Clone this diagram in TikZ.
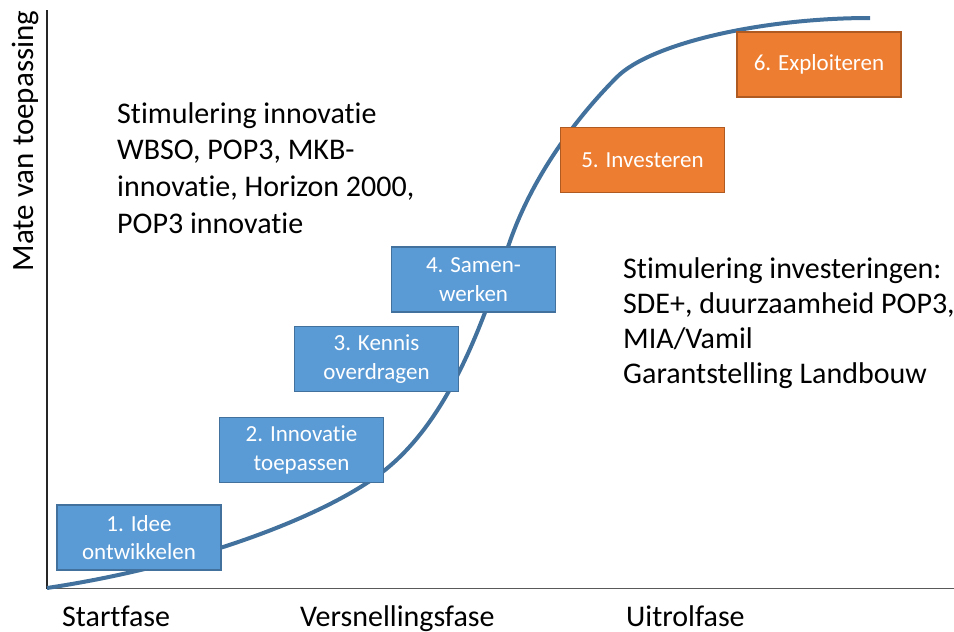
\documentclass[tikz,border=0pt]{standalone}
\usepackage{fontspec}
\setmainfont{Carlito}[Ligatures={NoCommon}]
\definecolor{boxblue}{HTML}{5B9BD5}
\definecolor{boxblueline}{HTML}{41719C}
\definecolor{boxorange}{HTML}{ED7D31}
\definecolor{boxorangeline}{HTML}{AE5A21}
\definecolor{curveblue}{HTML}{41719C}
\tikzset{
  stagebox/.style={draw=boxblueline, fill=boxblue, line width=1.2pt, minimum width=164pt, minimum height=65pt, text=white, align=center, font=\fontsize{23}{28.5}\selectfont, inner sep=0pt},
  orangebox/.style={stagebox, draw=boxorangeline, fill=boxorange},
  bigtext/.style={align=left, anchor=north west, inner sep=0pt},
  phase/.style={anchor=base west, inner sep=0pt, font=\fontsize{30}{34}\selectfont}
}
\begin{document}
\begin{tikzpicture}[x=1pt,y=-1pt]
\useasboundingbox (0,0) rectangle (954,632);
% axes
\coordinate (top) at (47,10);
\coordinate (origin) at (47,588.5);
\coordinate (right) at (954,588.5);
\draw[line width=1.3pt, black!85] (top) -- (origin);
\draw[line width=1.6pt, black!65] (origin) -- (right);
% S-curve
\coordinate (c0) at (47,588);
\coordinate (c1) at (385,470);
\coordinate (c2) at (508,247);
\coordinate (c3) at (617,77);
\coordinate (c4) at (870,18);
\draw[curveblue, line width=4pt]
  (c0) .. controls (200,565) and (330,514) .. (c1)
       .. controls (450,418) and (483,322) .. (c2)
       .. controls (533,172) and (582,112) .. (c3)
       .. controls (650,44) and (760,18) .. (c4);
% stage boxes
\node[stagebox] (s1) at (139,537.5) {1. Idee\\ontwikkelen};
\node[stagebox] (s2) at (301.5,450) {2. Innovatie\\toepassen};
\node[stagebox] (s3) at (376.5,359) {3. Kennis\\overdragen};
\node[stagebox] (s4) at (473.5,279.5) {4. Samen-\\werken};
\node[orangebox] (s5) at (642.5,160) {5. Investeren};
\node[orangebox] (s6) at (819,64.5) {6. Exploiteren};
% texts
\node[bigtext, font=\fontsize{30}{36.7}\selectfont] (innov) at (117,102) {Stimulering innovatie\\WBSO, POP3, MKB-\\innovatie, Horizon 2000,\\POP3 innovatie};
\node[bigtext, font=\fontsize{30}{35}\selectfont] (invest) at (623,257) {Stimulering investeringen:\\SDE+, duurzaamheid POP3,\\MIA/Vamil\\Garantstelling Landbouw};
\node[rotate=90, inner sep=0pt, font=\fontsize{31}{34}\selectfont] (ylab) at (25,141) {Mate van toepassing};
\node[phase] (p1) at (62,626) {Startfase};
\node[phase] (p2) at (300,626) {Versnellingsfase};
\node[phase] (p3) at (626,626) {Uitrolfase};
\end{tikzpicture}
\end{document}
